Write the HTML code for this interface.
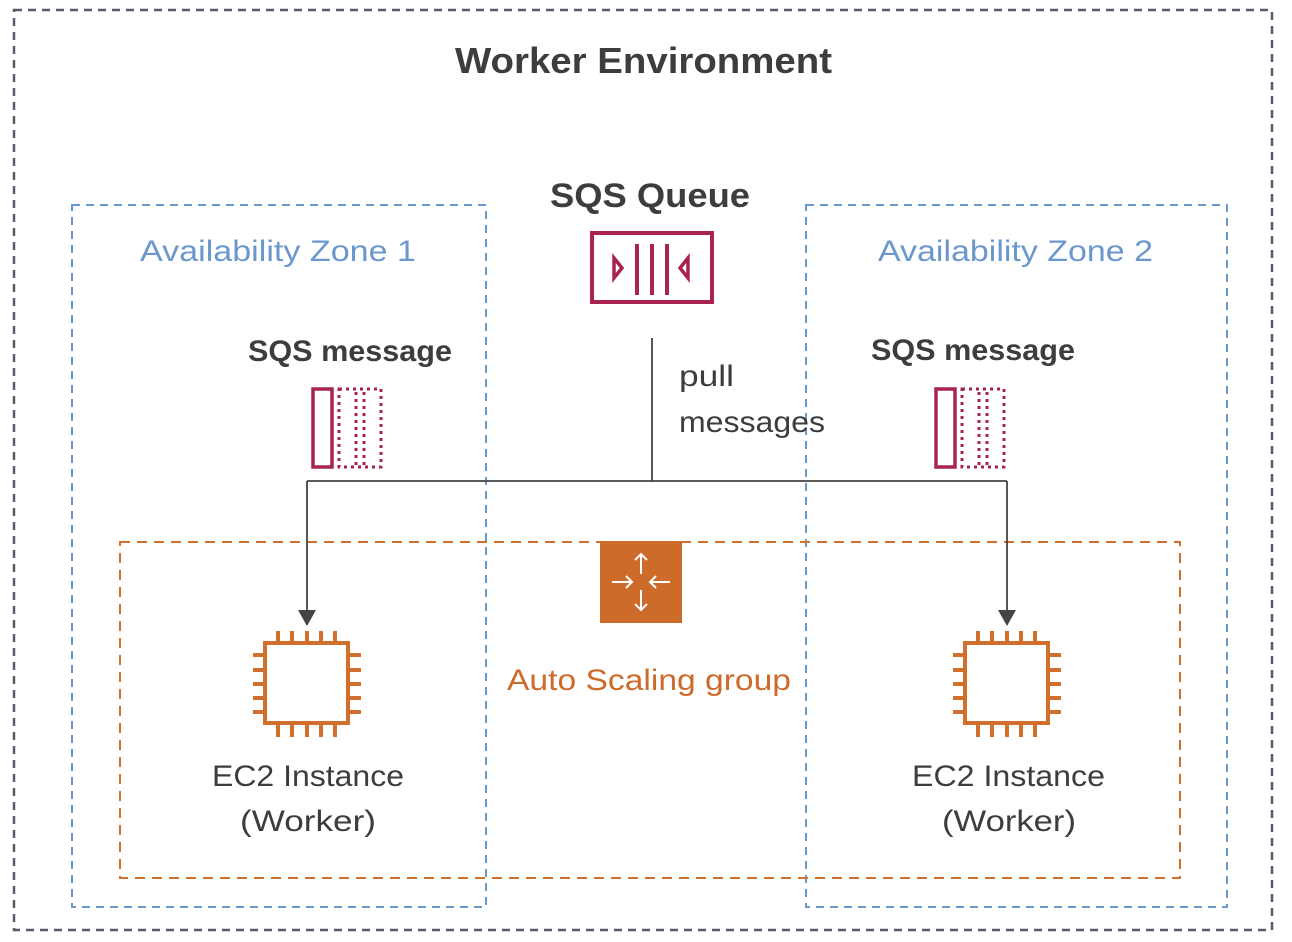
<!DOCTYPE html>
<html><head><meta charset="utf-8"><style>
html,body{margin:0;padding:0;background:#fff;width:1292px;height:942px;overflow:hidden}
svg{display:block}
text{font-family:"Liberation Sans",sans-serif}
</style></head><body>
<svg width="1292" height="942" viewBox="0 0 1292 942" xmlns="http://www.w3.org/2000/svg">
<defs>
<g id="chip" fill="none" stroke="#d0702c" stroke-width="4">
<rect x="265" y="643" width="83" height="80"/>
<path d="M278 631v12M292 631v12M307 631v12M321 631v12M335 631v12M278 723v14M292 723v14M307 723v14M321 723v14M335 723v14M253 655h12M253 670h12M253 684h12M253 698h12M253 712h12M348 655h13M348 670h13M348 684h13M348 698h13M348 712h13"/>
</g>
<g id="msg" stroke="#a8234e" fill="none">
<rect x="313" y="389" width="19" height="78" stroke-width="3.5"/>
<rect x="339" y="389" width="42" height="78" stroke-width="3" stroke-dasharray="3 4"/>
<path d="M356 392v73M364 392v73" stroke-width="3" stroke-dasharray="3 4"/>
</g>
</defs>
<rect x="14" y="10" width="1258" height="920" fill="none" stroke="#545b6e" stroke-width="2.5" stroke-dasharray="8 6"/>
<rect x="72" y="205" width="414" height="702" fill="none" stroke="#6b98cc" stroke-width="2" stroke-dasharray="8 6"/>
<rect x="806" y="205" width="421" height="702" fill="none" stroke="#6b98cc" stroke-width="2" stroke-dasharray="8 6"/>
<rect x="120" y="542" width="1060" height="336" fill="none" stroke="#d0702c" stroke-width="2" stroke-dasharray="10 7"/>

<text x="455" y="73" font-size="36" font-weight="bold" fill="#3d3d3d" textLength="377" lengthAdjust="spacingAndGlyphs">Worker Environment</text>
<text x="550" y="207" font-size="34" font-weight="bold" fill="#3d3d3d" textLength="200" lengthAdjust="spacingAndGlyphs">SQS Queue</text>
<text x="140" y="261" font-size="30" fill="#6b98cc" textLength="276" lengthAdjust="spacingAndGlyphs">Availability Zone 1</text>
<text x="878" y="261" font-size="30" fill="#6b98cc" textLength="275" lengthAdjust="spacingAndGlyphs">Availability Zone 2</text>
<text x="248" y="361" font-size="30" font-weight="bold" fill="#3d3d3d" textLength="204" lengthAdjust="spacingAndGlyphs">SQS message</text>
<text x="871" y="360" font-size="30" font-weight="bold" fill="#3d3d3d" textLength="204" lengthAdjust="spacingAndGlyphs">SQS message</text>
<text x="679" y="386" font-size="30" fill="#3d3d3d" textLength="55" lengthAdjust="spacingAndGlyphs">pull</text>
<text x="679" y="432" font-size="30" fill="#3d3d3d" textLength="146" lengthAdjust="spacingAndGlyphs">messages</text>

<g stroke="#a8234e" fill="none" stroke-width="4">
<rect x="592" y="233" width="120" height="69"/>
<path d="M637 244v51M652 244v51M667 244v51"/>
<path d="M614 258l8 10l-8 10z" stroke-width="3.5"/>
<path d="M688 258l-8 10l8 10z" stroke-width="3.5"/>
</g>
<use href="#msg"/>
<use href="#msg" transform="translate(623,0)"/>

<path d="M652 338V481M307 481H1007M307 481V612M1007 481V612" stroke="#444" stroke-width="1.8" fill="none"/>
<path d="M298 610h18l-9 16z M998 610h18l-9 16z" fill="#444"/>

<rect x="600" y="541" width="82" height="82" fill="#cd6b2b"/>
<g stroke="#fff" stroke-width="2" fill="none">
<path d="M641 554v20M635 560l6-6l6 6M641 590v20M635 604l6 6l6-6M612 582h20M626 576l6 6l-6 6M670 582h-20M656 576l-6 6l6 6"/>
</g>
<text x="507" y="690" font-size="30" fill="#cd6b2b" textLength="284" lengthAdjust="spacingAndGlyphs">Auto Scaling group</text>

<use href="#chip"/>
<use href="#chip" transform="translate(700,0)"/>
<text x="212" y="786" font-size="30" fill="#3d3d3d" textLength="192" lengthAdjust="spacingAndGlyphs">EC2 Instance</text>
<text x="240" y="831" font-size="30" fill="#3d3d3d" textLength="136" lengthAdjust="spacingAndGlyphs">(Worker)</text>
<text x="912" y="786" font-size="30" fill="#3d3d3d" textLength="193" lengthAdjust="spacingAndGlyphs">EC2 Instance</text>
<text x="942" y="831" font-size="30" fill="#3d3d3d" textLength="134" lengthAdjust="spacingAndGlyphs">(Worker)</text>
</svg>
</body></html>
